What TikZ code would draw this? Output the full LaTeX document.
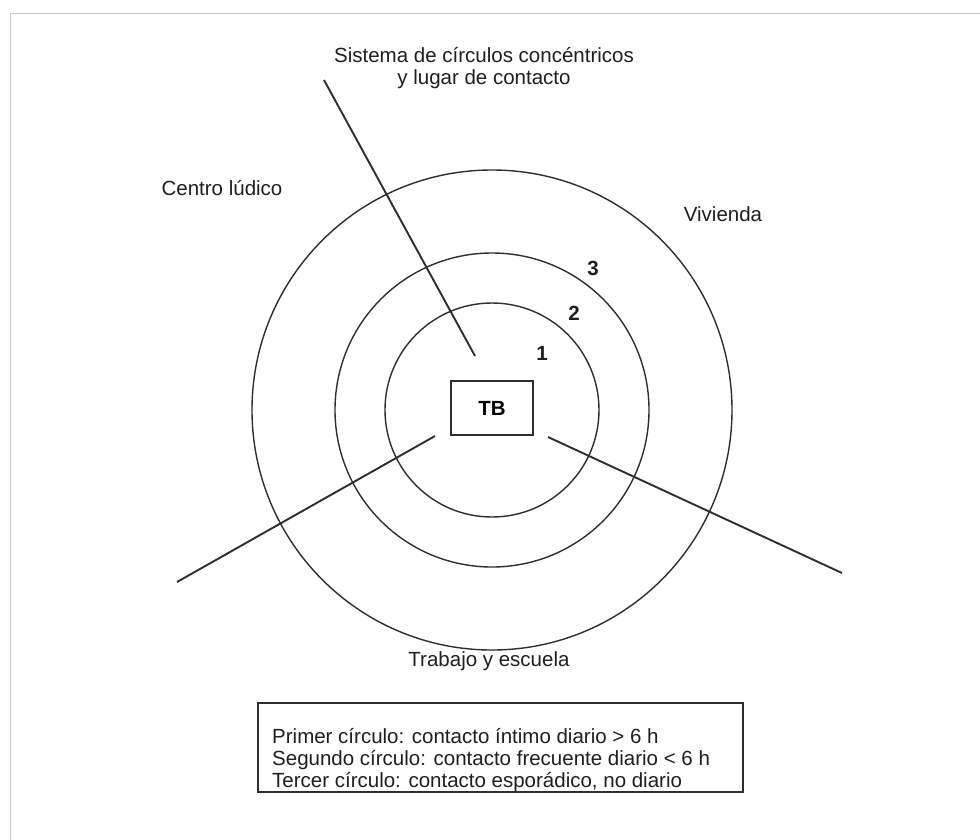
\documentclass[tikz,border=0pt]{standalone}
\usepackage{fontspec}
\setmainfont{Liberation Sans}
\begin{document}
\begin{tikzpicture}[x=1pt,y=-1pt,
  lbl/.style={inner sep=0pt, font=\fontsize{20.5}{24}\selectfont, text=black!88},
  num/.style={lbl, font=\fontsize{20.5}{24}\selectfont\bfseries},
  ring/.style={draw=black!82, line width=1.4pt},
  ray/.style={draw=black!82, line width=1.9pt}]
\useasboundingbox (0,0) rectangle (980,839);
\draw[black!22, line width=1.6pt] (10.5,1000) -- (10.5,13.5) -- (1000,13.5);
% circles
\coordinate (c) at (492,410);
\draw[ring] (c) circle[radius=107];
\draw[ring] (c) circle[radius=157];
\draw[ring] (c) circle[radius=240];
% center box
\node[draw=black!82, line width=1.4pt, minimum width=82pt, minimum height=54pt, inner sep=0pt,
  font=\fontsize{20.5}{24}\selectfont\bfseries] (tb) at (492,408) {TB};
% rays
\coordinate (t1) at (324,80);  \coordinate (t2) at (475,356);
\coordinate (l1) at (177,582); \coordinate (l2) at (435,436);
\coordinate (r1) at (842,573); \coordinate (r2) at (548,437);
\draw[ray] (t1) -- (t2);
\draw[ray] (l1) -- (l2);
\draw[ray] (r1) -- (r2);
% labels
\node[lbl, anchor=base] (title1) at (484,62) {Sistema de círculos concéntricos};
\node[lbl, anchor=base] (title2) at (484,84) {y lugar de contacto};
\node[lbl] (centro) at (222,188) {Centro lúdico};
\node[lbl] (viv) at (723,214) {Vivienda};
\node[num] (n3) at (593,268) {3};
\node[num] (n2) at (574,313) {2};
\node[num] (n1) at (542,353) {1};
\node[lbl] (trab) at (489,661) {Trabajo y escuela};
% legend
\draw[black!82, line width=1.4pt] (258,703) rectangle (743,792);
\node[lbl, anchor=base west] (lg1) at (272,743) {Primer círculo: contacto íntimo diario > 6 h};
\node[lbl, anchor=base west] (lg2) at (272,765) {Segundo círculo: contacto frecuente diario < 6 h};
\node[lbl, anchor=base west] (lg3) at (272,787) {Tercer círculo: contacto esporádico, no diario};
\end{tikzpicture}
\end{document}
